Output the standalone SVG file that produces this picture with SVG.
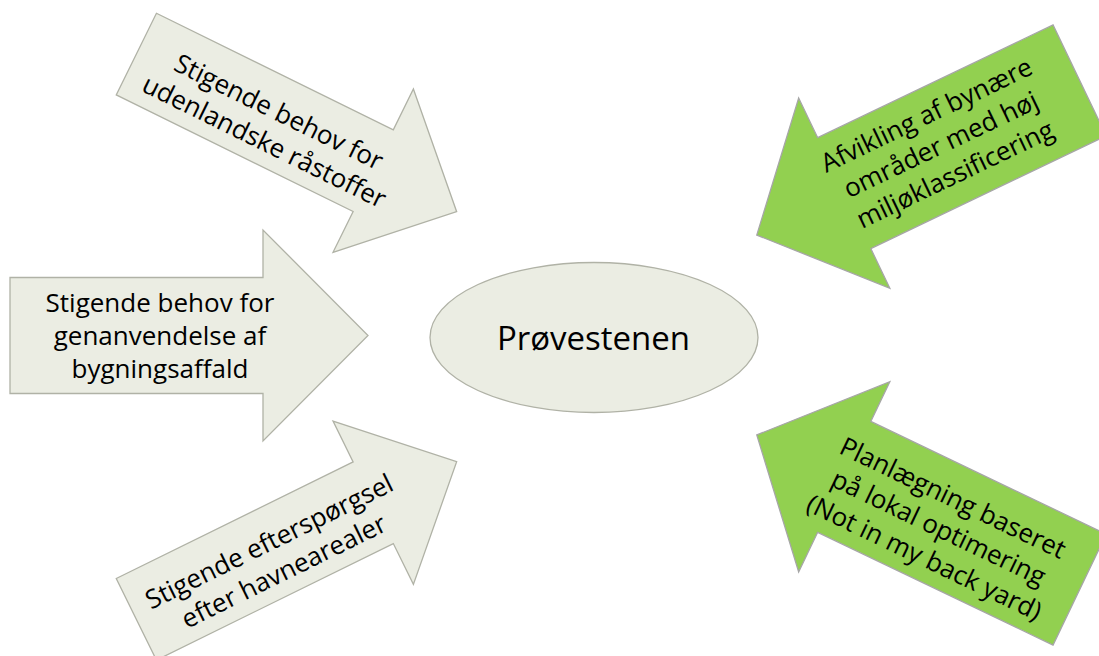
<svg xmlns="http://www.w3.org/2000/svg" width="1099" height="656" viewBox="0 0 1099 656">
  <defs>
    <style>
      .pale { fill: #EBEDE3; stroke: #B0B2A6; stroke-width: 1.3; }
      .green { fill: #92D050; stroke: #A6A6A6; stroke-width: 1.3; }
      .lbl { font-family: "Open Sans", "Noto Sans", "DejaVu Sans", sans-serif; font-size: 26px; fill: #000000; text-anchor: middle; }
      .center { font-family: "Open Sans", "Noto Sans", "DejaVu Sans", sans-serif; font-size: 33px; fill: #000000; text-anchor: middle; }
    </style>
  </defs>
  <rect x="0" y="0" width="1099" height="656" fill="#FFFFFF"/>

  <g id="connectors"></g>

  <g id="arrow-top-left" transform="translate(296.5,132.9) rotate(26.2)">
    <polygon class="pale" points="-178.5,-45.5 85.5,-45.5 85.5,-91 178.5,0 85.5,91 85.5,45.5 -178.5,45.5"/>
    <text class="lbl" x="-25" y="-2">Stigende behov for</text>
    <text class="lbl" x="-25" y="31">udenlandske råstoffer</text>
  </g>

  <g id="arrow-middle-left">
    <polygon class="pale" points="10,277.5 263,277.5 263,230 368,335.5 263,441 263,393.5 10,393.5"/>
    <text class="lbl" x="160" y="311.5">Stigende behov for</text>
    <text class="lbl" x="160" y="344.5">genanvendelse af</text>
    <text class="lbl" x="160" y="377.5">bygningsaffald</text>
  </g>

  <g id="arrow-bottom-left" transform="translate(296.5,540.5) rotate(-26.2)">
    <polygon class="pale" points="-178.5,-45.5 85.5,-45.5 85.5,-91 178.5,0 85.5,91 85.5,45.5 -178.5,45.5"/>
    <text class="lbl" x="-25" y="-2">Stigende efterspørgsel</text>
    <text class="lbl" x="-25" y="31">efter havnearealer</text>
  </g>

  <g id="arrow-top-right">
    <polygon class="green" transform="translate(918.2,157.7) rotate(154.4)" points="-179,-61.5 82,-61.5 82,-105.5 179,0 82,105.5 82,61.5 -179,61.5"/>
    <g transform="translate(918.2,157.7) rotate(-25.6)">
      <text class="lbl" x="26" y="-26">Afvikling af bynære</text>
      <text class="lbl" x="26" y="7">områder med høj</text>
      <text class="lbl" x="26" y="40">miljøklassificering</text>
    </g>
  </g>

  <g id="arrow-bottom-right">
    <polygon class="green" transform="translate(918.2,512.3) rotate(205.6)" points="-179,-61.5 82,-61.5 82,-105.5 179,0 82,105.5 82,61.5 -179,61.5"/>
    <g transform="translate(918.2,512.3) rotate(25.6)">
      <text class="lbl" x="25" y="-19">Planlægning baseret</text>
      <text class="lbl" x="25" y="14">på lokal optimering</text>
      <text class="lbl" x="25" y="47">(Not in my back yard)</text>
    </g>
  </g>

  <g id="node-center">
    <ellipse class="pale" cx="594" cy="337.5" rx="164" ry="75"/>
    <text class="center" x="593.5" y="350">Prøvestenen</text>
  </g>
</svg>
